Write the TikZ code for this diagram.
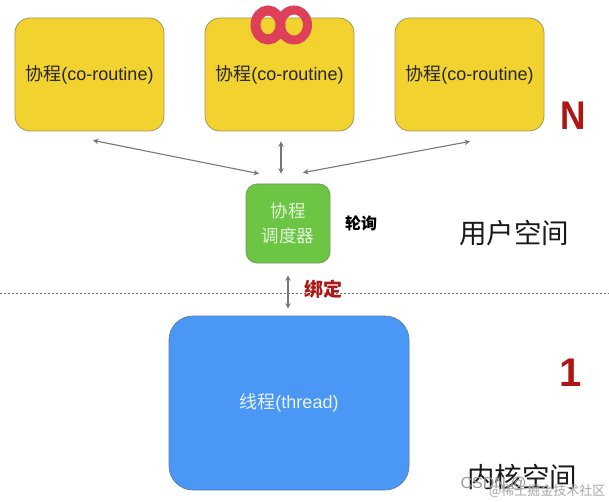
\documentclass[tikz,border=0pt]{standalone}
\usepackage{fontspec}
\setmainfont{Liberation Sans}
\newfontfamily\cjk{Noto Sans CJK SC}
\usepackage{tikz}
\usetikzlibrary{arrows.meta}
\definecolor{coyellow}{HTML}{F2D22E}
\definecolor{coedge}{HTML}{A8955A}
\definecolor{schedgreen}{HTML}{6CC644}
\definecolor{schededge}{HTML}{6E9A5A}
\definecolor{threadblue}{HTML}{4A97F5}
\definecolor{threadedge}{HTML}{5E7FA8}
\definecolor{inkred}{HTML}{AE1616}
\definecolor{looped}{HTML}{DF4059}
\definecolor{arrowgray}{HTML}{777777}
\tikzset{
  coro/.style={draw=coedge, fill=coyellow, line width=0.8pt, rounded corners=15pt,
    minimum width=149pt, minimum height=113pt, inner sep=0pt, font=\fontsize{18}{20}\selectfont, text=black!85},
  sched/.style={draw=schededge, fill=schedgreen, line width=0.7pt, rounded corners=11pt,
    minimum width=84pt, minimum height=79pt, inner sep=0pt, align=center,
    font=\fontsize{17.5}{25}\selectfont\cjk, text=white!80!schedgreen},
  thrd/.style={draw=threadedge, fill=threadblue, line width=0.7pt, rounded corners=24pt,
    minimum width=240pt, minimum height=174pt, inner sep=0pt,
    font=\fontsize{18}{20}\selectfont, text=white!88!threadblue},
  link/.style={draw=arrowgray, line width=1.1pt, {Stealth[length=5.5pt,width=5.5pt]}-{Stealth[length=5.5pt,width=5.5pt]}},
  space/.style={font=\fontsize{27.5}{30}\selectfont\cjk, text=black!90},
  big/.style={font=\fontsize{40}{44}\selectfont\bfseries, text=inkred},
}
\begin{document}
\begin{tikzpicture}[x=1pt,y=-1pt]
  \useasboundingbox (0,0) rectangle (609,502);
  \node[coro] (coa) at (89.5,74.5) {{\cjk 协程}(co-routine)};
  \node[coro] (cob) at (279.5,74.5) {{\cjk 协程}(co-routine)};
  \node[coro] (coc) at (469.5,74.5) {{\cjk 协程}(co-routine)};
  % loop mark on the middle box
  \draw[looped, line width=10pt] (268,25) ellipse [x radius=12.5, y radius=14.5];
  \draw[looped, line width=9pt] (294,25) ellipse [x radius=13.5, y radius=15];
  \node[sched] (disp) at (288,223.5) {协程\\调度器};
  \node[thrd] (thread) at (289,403) {{\cjk 线程}(thread)};
  \draw[black!55, line width=0.7pt, dash pattern=on 2pt off 2pt] (0,293) -- (609,293);
  \draw[link] ([shift={(3.5,9)}]coa.south) -- ([shift={(-29,-10)}]disp.north);
  \draw[link] ([shift={(1.5,10)}]cob.south) -- ([shift={(-7,-10)}]disp.north);
  \draw[link] ([shift={(0.5,10)}]coc.south) -- ([shift={(15,-11)}]disp.north);
  \draw[link] ([yshift=-12]disp.south) -- ([yshift=7]thread.north -| disp.south);
  \node[font=\fontsize{16}{18}\selectfont\cjk\bfseries] (poll) at (361,223) {轮询};
  \node[font=\fontsize{19}{21}\selectfont\cjk\bfseries, text=inkred] (bind) at (323,289) {绑定};
  \node[big, xscale=0.88] (nlab) at (573,116) {N};
  \node[big] (onelab) at (571,373) {1};
  \node[space] (user) at (514,233) {用户空间};
  \node[space] (kernel) at (522,477) {内核空间};
  \node[anchor=west, font=\fontsize{16}{18}\selectfont, text=black!40] (mark) at (457,484) {CSDN @};
  \node[anchor=east, font=\fontsize{13}{15}\selectfont\cjk, text=black!35] (source) at (609,491) {@稀土掘金技术社区};
\end{tikzpicture}
\end{document}
